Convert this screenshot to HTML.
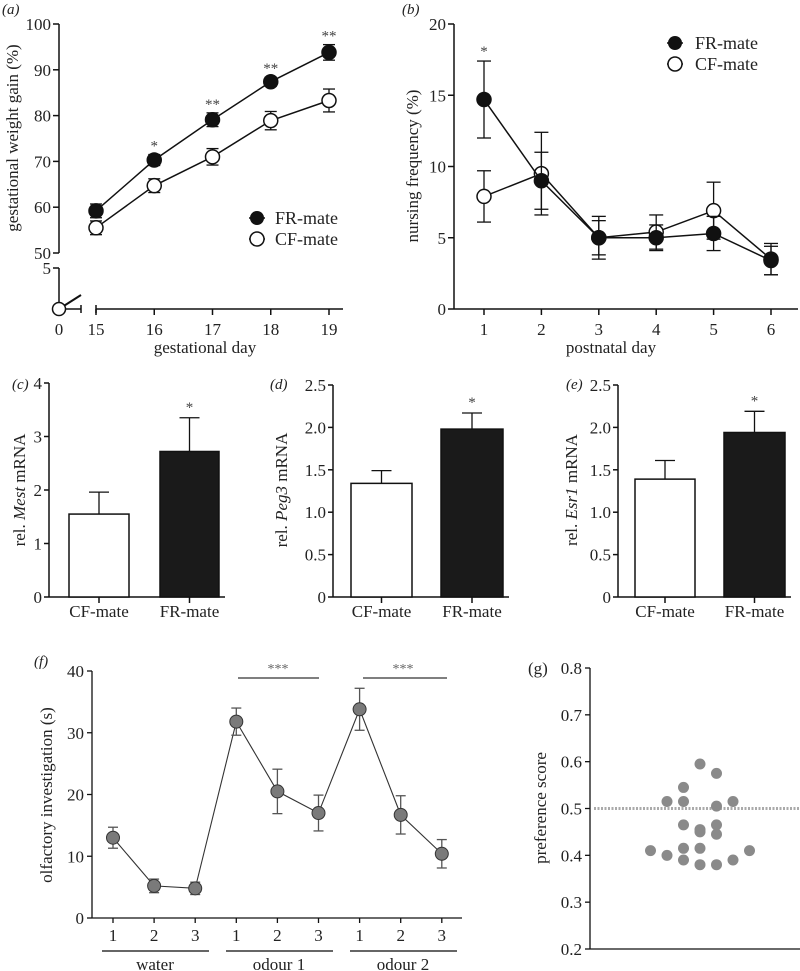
<!DOCTYPE html>
<html><head><meta charset="utf-8"><style>
html,body{margin:0;padding:0;background:#fff;}
svg{display:block;font-family:"Liberation Serif",serif;}
</style></head><body>
<svg id="fig" width="800" height="971" viewBox="0 0 800 971" xmlns="http://www.w3.org/2000/svg"></svg>
<script>
// Panel a data
const aDays=[15,16,17,18,19];
const aFR=[59.2,70.3,79.1,87.4,93.8];
const aFRerr=[1.5,1.2,1.5,1.0,1.7];
const aCF=[55.5,64.7,71.0,78.9,83.3];
const aCFerr=[1.5,1.5,1.8,2.0,2.5];
const aStars=["","*","**","**","**"];
const aTicks=[50,60,70,80,90,100];
// Panel b data
const bDays=[1,2,3,4,5,6];
const bFR=[14.7,9.0,5.0,5.0,5.3,3.4];
const bFRerr=[2.7,2.0,1.2,0.9,1.2,1.0];
const bCF=[7.9,9.5,5.0,5.4,6.9,3.5];
const bCFerr=[1.8,2.9,1.5,1.2,2.0,1.1];
const bTicks=[0,5,10,15,20];
// Panels c-e
const barCats=["CF-mate","FR-mate"];
const cVals=[1.55,2.72]; const cErr=[0.41,0.63];
const dVals=[1.34,1.98]; const dErr=[0.15,0.19];
const eVals=[1.39,1.94]; const eErr=[0.22,0.25];
const cTicks=[0,1,2,3,4];
const deTicks=["0","0.5","1.0","1.5","2.0","2.5"];
// Panel f
const fVals=[13.0,5.2,4.8,31.8,20.5,17.0,33.8,16.7,10.4];
const fErr=[1.7,1.1,1.0,2.2,3.6,2.9,3.4,3.1,2.3];
const fTickLabels=["1","2","3","1","2","3","1","2","3"];
const fGroups=["water","odour 1","odour 2"];
const fTicks=[0,10,20,30,40];
// Panel g
const gVals=[0.595,0.575,0.545,0.515,0.515,0.505,0.515,0.465,0.455,0.465,0.45,0.445,0.41,0.40,0.415,0.415,0.39,0.38,0.38,0.39,0.41];
const gCols=[0,1,-1,-2,-1,1,2,-1,0,1,0,1,-3,-2,-1,0,-1,0,1,2,3];
const gTicks=["0.2","0.3","0.4","0.5","0.6","0.7","0.8"];

const svg=document.getElementById('fig');
const NS="http://www.w3.org/2000/svg";
const TK=17, TT=16;
function el(tag,attrs,parent){const e=document.createElementNS(NS,tag);for(const k in attrs)e.setAttribute(k,attrs[k]);(parent||svg).appendChild(e);return e;}
function txt(s,x,y,size,anchor,parent,extra){const t=el('text',Object.assign({x:x,y:y,'font-size':size,'text-anchor':anchor||'middle',fill:'#222'},extra||{}),parent);t.textContent=s;return t;}
function line(x1,y1,x2,y2,parent,w,col){return el('line',{x1:x1,y1:y1,x2:x2,y2:y2,stroke:col||'#111','stroke-width':w||1.5},parent);}
function grp(name){const g=el('g',{});return g;}
function errbar(x,y1,y2,parent,cap,col){line(x,y1,x,y2,parent,1.3,col);line(x-cap,y1,x+cap,y1,parent,1.3,col);line(x-cap,y2,x+cap,y2,parent,1.3,col);}

// ===== Panel a =====
(function(){
const g=grp('panel-a');
const ya=v=>253-(v-50)*(229/50);
const xa=d=>96+(d-15)*58.25;
txt('(a)',2,14,15,'start',g,{'font-style':'italic'});
const ax=grp('panel-a-y-axis');g.appendChild(ax);
line(59,24,59,253,ax);line(59,268,59,309,ax);
aTicks.forEach(t=>{line(53,ya(t),59,ya(t),ax);txt(String(t),51,ya(t)+6,TK,'end',ax);});
line(53,268,59,268,ax);txt('5',51,274,TK,'end',ax);
const xax=grp('panel-a-x-axis');g.appendChild(xax);
line(59,309,81,309,xax);line(81,305,81,313,xax);line(59,309,59,315,xax);
line(96,309,343,309,xax);line(96,305,96,313,xax);
aDays.forEach(d=>{line(xa(d),309,xa(d),315,xax);txt(String(d),xa(d),335,TK,'middle',xax);});
txt('0',59,335,TK,'middle',xax);
txt('gestational day',205,353,TT+1,'middle',xax);
const yt=txt('gestational weight gain (%)',0,0,TT+1,'middle',g,{transform:'translate(18,138) rotate(-90)'});

line(59,309,81,295,g,2);
const c0=el('circle',{cx:59,cy:309,r:6.5,fill:'#fff',stroke:'#111','stroke-width':1.5},g);

[[aCF,aCFerr,'#fff','cf'],[aFR,aFRerr,'#111','fr']].forEach(([v,e,f,n])=>{
 const s=grp('series-'+n);g.appendChild(s);
 el('polyline',{points:aDays.map((d,i)=>xa(d)+','+ya(v[i])).join(' '),fill:'none',stroke:'#111','stroke-width':1.5},s);
 aDays.forEach((d,i)=>{errbar(xa(d),ya(v[i]-e[i]),ya(v[i]+e[i]),s,6);
 const c=el('circle',{cx:xa(d),cy:ya(v[i]),r:7,fill:f,stroke:'#111','stroke-width':1.5},s);
 });
});
aDays.forEach((d,i)=>{if(aStars[i])txt(aStars[i],xa(d),ya(aFR[i]+aFRerr[i])-4,15,'middle',g,{fill:'#444'});});
const lg=grp('legend-a');g.appendChild(lg);
line(249,218,265,218,lg);el('circle',{cx:257,cy:218,r:7,fill:'#111'},lg);txt('FR-mate',275,224,18,'start',lg);
line(249,239,265,239,lg);el('circle',{cx:257,cy:239,r:7,fill:'#fff',stroke:'#111','stroke-width':1.5},lg);txt('CF-mate',275,245,18,'start',lg);
})();

// ===== Panel b =====
(function(){
const g=grp('panel-b');
const yb=v=>309-v*(285/20);
const xb=d=>484+(d-1)*57.4;
txt('(b)',402,14,15,'start',g,{'font-style':'italic'});
const ax=grp('panel-b-y-axis');g.appendChild(ax);
line(454,24,454,309,ax);
bTicks.forEach(t=>{line(448,yb(t),454,yb(t),ax);txt(String(t),446,yb(t)+6,TK,'end',ax);});
const xax=grp('panel-b-x-axis');g.appendChild(xax);
line(454,309,798,309,xax);
bDays.forEach(d=>{line(xb(d),309,xb(d),315,xax);txt(String(d),xb(d),335,TK,'middle',xax);});
txt('postnatal day',611,353,TT+1,'middle',xax);
txt('nursing frequency (%)',0,0,TT+1,'middle',g,{transform:'translate(418,166) rotate(-90)'});
[[bCF,bCFerr,'#fff','cf'],[bFR,bFRerr,'#111','fr']].forEach(([v,e,f,n])=>{
 const s=grp('series-b-'+n);g.appendChild(s);
 el('polyline',{points:bDays.map((d,i)=>xb(d)+','+yb(v[i])).join(' '),fill:'none',stroke:'#111','stroke-width':1.5},s);
 bDays.forEach((d,i)=>{errbar(xb(d),yb(v[i]-e[i]),yb(v[i]+e[i]),s,7);
 const c=el('circle',{cx:xb(d),cy:yb(v[i]),r:7,fill:f,stroke:'#111','stroke-width':1.5},s);
 });
});
txt('*',xb(1),56,15,'middle',g,{fill:'#444'});
const lg=grp('legend-b');g.appendChild(lg);
line(667,43,683,43,lg);el('circle',{cx:675,cy:43,r:7,fill:'#111'},lg);txt('FR-mate',695,49,18,'start',lg);
line(667,64,683,64,lg);el('circle',{cx:675,cy:64,r:7,fill:'#fff',stroke:'#111','stroke-width':1.5},lg);txt('CF-mate',695,70,18,'start',lg);
})();

// ===== Bar panels =====
function barPanel(name,label,lx,axX,yTop,maxV,ticks,vals,errs,bars,italicPart,ylx){
 const g=grp(name);
 const yv=v=>597-v*((597-yTop)/maxV);
 txt(label,lx,389,15,'start',g,{'font-style':'italic'});
 const ax=grp(name+'-y-axis');g.appendChild(ax);
 line(axX,yTop,axX,597,ax);
 ticks.forEach(t=>{const v=parseFloat(t);line(axX-5,yv(v),axX,yv(v),ax);txt(String(t),axX-7,yv(v)+6,TK,'end',ax);});
 const xax=grp(name+'-x-axis');g.appendChild(xax);
 line(axX,597,bars[1][1]+6,597,xax);
 barCats.forEach((c,i)=>{const cx=(bars[i][0]+bars[i][1])/2;line(cx,597,cx,603,xax);txt(c,cx,617,TK,'middle',xax);
  line(cx,yv(vals[i]),cx,yv(vals[i]+errs[i]),g,1.3);line(cx-10,yv(vals[i]+errs[i]),cx+10,yv(vals[i]+errs[i]),g,1.3);
  const r=el('rect',{x:bars[i][0],y:yv(vals[i]),width:bars[i][1]-bars[i][0],height:597-yv(vals[i]),fill:i?'#1a1a1a':'#fff',stroke:'#111','stroke-width':1.5},g);
  });
 const cx=(bars[1][0]+bars[1][1])/2;txt('*',cx,yv(vals[1]+errs[1])-6,15,'middle',g,{fill:'#444'});
 const t=el('text',{x:0,y:0,'font-size':TT+1,'text-anchor':'middle',fill:'#222',transform:'translate('+ylx+',490) rotate(-90)'},g);
 
 const s1=el('tspan',{},t);s1.textContent='rel. ';
 const s2=el('tspan',{'font-style':'italic'},t);s2.textContent=italicPart;
 const s3=el('tspan',{},t);s3.textContent=' mRNA';
}
barPanel('panel-c','(c)',12,49,383,4,cTicks,cVals,cErr,[[69,129],[160,219]],'Mest',25);
barPanel('panel-d','(d)',270,333,385,2.5,deTicks,dVals,dErr,[[351,412],[441,503]],'Peg3',287);
barPanel('panel-e','(e)',566,618,385,2.5,deTicks,eVals,eErr,[[635,695],[724,785]],'Esr1',577);

// ===== Panel f =====
(function(){
const g=grp('panel-f');
const yf=v=>918-v*(247/40);
const xf=i=>113+i*41.1;
txt('(f)',34,666,15,'start',g,{'font-style':'italic'});
const ax=grp('panel-f-y-axis');g.appendChild(ax);
line(92,671,92,918,ax,1.3);
fTicks.forEach(t=>{line(87,yf(t),92,yf(t),ax,1.3);txt(String(t),84,yf(t)+6,TK,'end',ax);});
const xax=grp('panel-f-x-axis');g.appendChild(xax);
line(92,918,462,918,xax,1.3);
fTickLabels.forEach((l,i)=>{line(xf(i),918,xf(i),923,xax,1.3);txt(l,xf(i),941,TK,'middle',xax);});
fGroups.forEach((n,k)=>{line(102+k*124,951,209+k*124,951,xax,1.5,'#333');txt(n,155+k*124,970,TK,'middle',xax);});
txt('olfactory investigation (s)',0,0,TT+1,'middle',g,{transform:'translate(52,795) rotate(-90)'});
el('polyline',{points:fVals.map((v,i)=>xf(i)+','+yf(v)).join(' '),fill:'none',stroke:'#333','stroke-width':1.1},g);
fVals.forEach((v,i)=>{errbar(xf(i),yf(v-fErr[i]),yf(v+fErr[i]),g,5,'#555');
 const c=el('circle',{cx:xf(i),cy:yf(v),r:6.5,fill:'#7a7a7a',stroke:'#333','stroke-width':1},g);
 });
line(238,678,319,678,g,1.3,'#333');txt('***',278,673,14,'middle',g,{fill:'#666'});
line(363,678,447,678,g,1.3,'#333');txt('***',403,673,14,'middle',g,{fill:'#666'});
})();

// ===== Panel g =====
(function(){
const g=grp('panel-g');
const yg=v=>949-(v-0.2)*(281/0.6);
const xg=c=>700+c*16.5;
txt('(g)',528,674,17,'start',g);
const ax=grp('panel-g-y-axis');g.appendChild(ax);
line(590,668,590,949,ax,1.3);
gTicks.forEach(t=>{const v=parseFloat(t);line(585,yg(v),590,yg(v),ax,1.3);txt(t,582,yg(v)+6,TK,'end',ax);});
line(590,949,800,949,g,1.3);
txt('preference score',0,0,TT+1,'middle',g,{transform:'translate(546,808) rotate(-90)'});
const dl=line(594,yg(0.5),800,yg(0.5),g,3,'#aaa');dl.setAttribute('stroke-dasharray','2,1.5');

gVals.forEach((v,i)=>{const c=el('circle',{cx:xg(gCols[i]),cy:yg(v),r:5.5,fill:'#8a8a8a'},g);
 });
})();
</script>
</body></html>
